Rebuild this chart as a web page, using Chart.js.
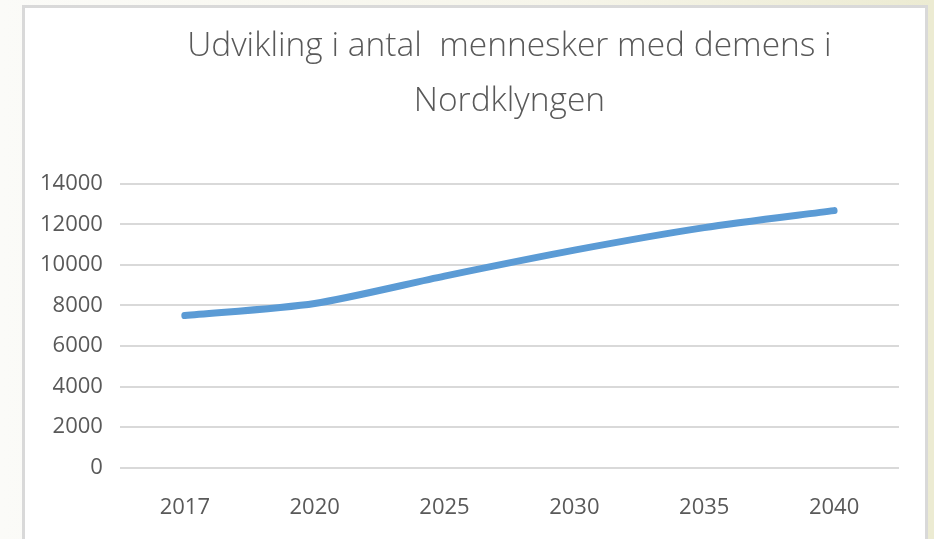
<!DOCTYPE html>
<html>
<head>
<meta charset="utf-8">
<script src="https://cdn.jsdelivr.net/npm/chart.js@4/dist/chart.umd.min.js"></script>
<style>
  html, body { margin: 0; padding: 0; }
  body { width: 934px; height: 539px; overflow: hidden; position: relative;
         background: linear-gradient(to right, #fbfbf8 0%, #f6f5ea 60%, #ecebd2 100%); }
  #box { position: absolute; left: 22px; top: 5px; width: 900px; height: 545px;
         background: #ffffff; border: 3px solid #d9d9d9; }
  #wrap { position: absolute; left: 0; top: 0; width: 900px; height: 545px; }
</style>
</head>
<body>
<div id="box"><div id="wrap"><canvas id="c"></canvas></div></div>
<script>
const titleLines = ["Udvikling i antal  mennesker med demens i", "Nordklyngen"];
const years = ["2017", "2020", "2025", "2030", "2035", "2040"];
const dementiaCounts = [7500, 8100, 9450, 10730, 11840, 12680];
const yTicks = [0, 2000, 4000, 6000, 8000, 10000, 12000, 14000];

const FONT = "'Open Sans', sans-serif";

new Chart(document.getElementById('c'), {
  type: 'line',
  data: {
    labels: years,
    datasets: [{
      data: dementiaCounts,
      borderColor: '#5b9bd5',
      borderWidth: 7,
      borderCapStyle: 'round',
      borderJoinStyle: 'round',
      pointRadius: 0,
      tension: 0.25,
      fill: false
    }]
  },
  options: {
    responsive: true,
    maintainAspectRatio: false,
    animation: false,
    layout: { padding: { left: -2, right: 26, top: 0, bottom: 13 } },
    plugins: {
      legend: { display: false },
      tooltip: { enabled: false },
      title: {
        display: true,
        fullSize: false,
        text: titleLines,
        color: '#595959',
        font: { family: FONT, size: 33.5, weight: 300, lineHeight: 1.64 },
        padding: { top: 11, bottom: 55 }
      }
    },
    scales: {
      x: {
        offset: true,
        grid: { display: false },
        border: { display: false },
        ticks: { color: '#595959', font: { family: FONT, size: 22 }, padding: 19 }
      },
      y: {
        min: 0, max: 14000,
        afterBuildTicks: (axis) => { axis.ticks = yTicks.map(v => ({ value: v })); },
        grid: { color: '#d9d9d9', lineWidth: 2, drawTicks: false },
        border: { display: false },
        ticks: { color: '#595959', font: { family: FONT, size: 22 }, padding: 17,
                 callback: (v) => String(v) }
      }
    }
  }
});
</script>
</body>
</html>
